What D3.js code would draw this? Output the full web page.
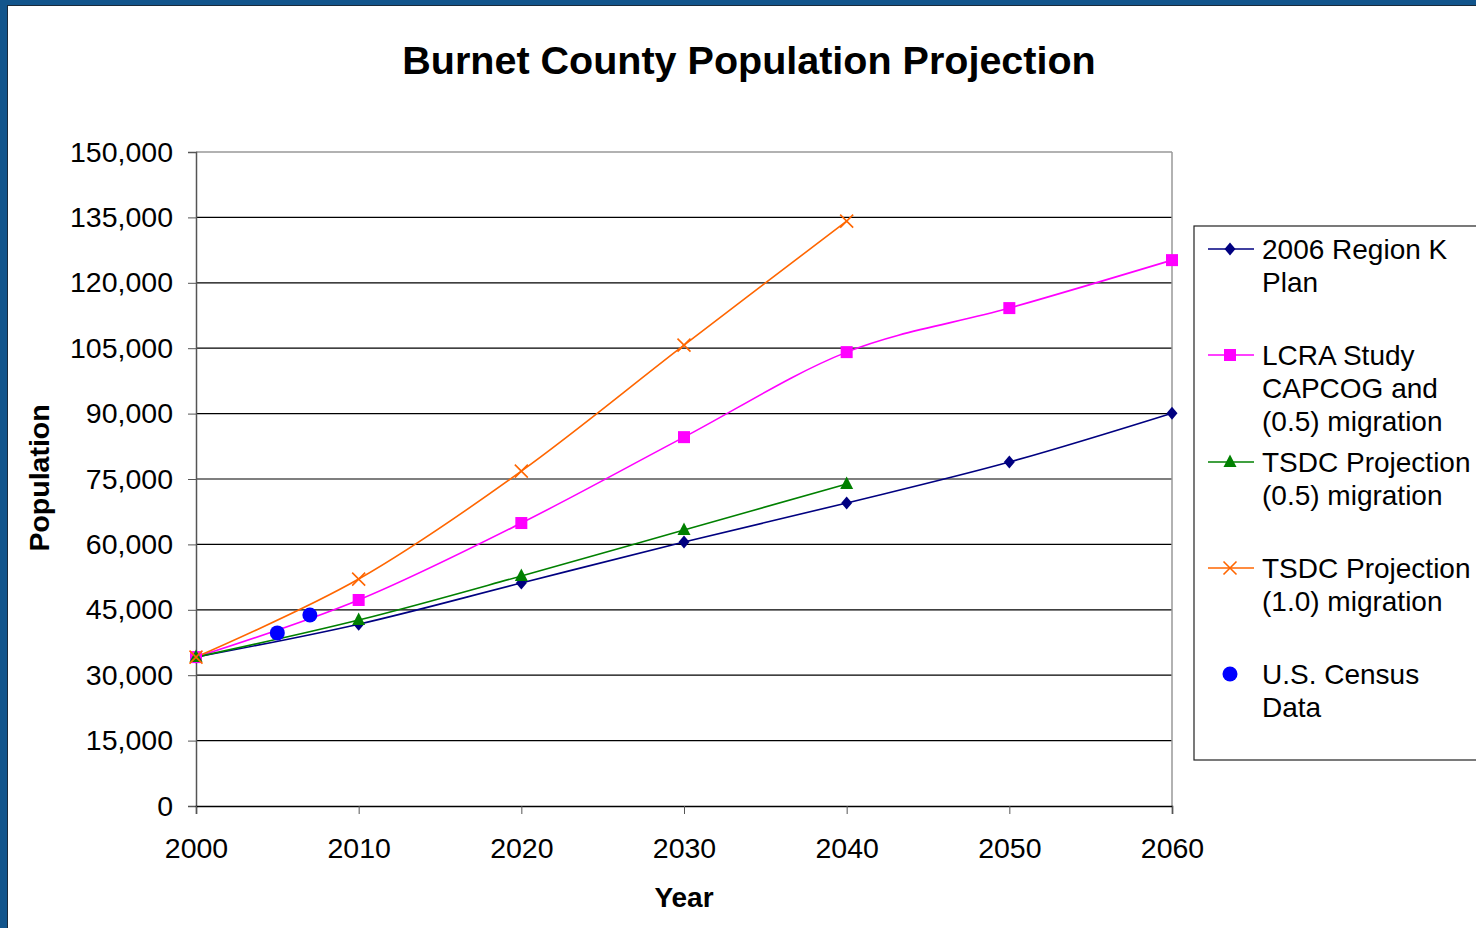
<!DOCTYPE html>
<html>
<head>
<meta charset="utf-8">
<script src="https://cdn.jsdelivr.net/npm/d3@7"></script>
<style>
  html, body { margin: 0; padding: 0; background: #fff; }
  svg { display: block; font-family: "Liberation Sans", Arial, sans-serif; }
</style>
</head>
<body>
<svg id="chart" width="1476" height="928"></svg>
<script>
// ---- data ----
const years = [2000, 2010, 2020, 2030, 2040, 2050, 2060];
const regionK = [34150, 41700, 51150, 60550, 69500, 78900, 90100];
const lcra = [34150, 47250, 64900, 84600, 104100, 114200, 125200];
const tsdcHalfYears = [2000, 2010, 2020, 2030, 2040];
const tsdcHalf = [34150, 42650, 52750, 63300, 73850];
const tsdcOneYears = [2000, 2010, 2020, 2030, 2040];
const tsdcOne = [34150, 52050, 76800, 105700, 134150];
const censusYears = [2005, 2007];
const census = [39700, 43800];
const yTicks = [0, 15000, 30000, 45000, 60000, 75000, 90000, 105000, 120000, 135000, 150000];
const xTicks = [2000, 2010, 2020, 2030, 2040, 2050, 2060];
const legendLabels = [
  ["2006 Region K", "Plan"],
  ["LCRA Study", "CAPCOG and", "(0.5) migration"],
  ["TSDC Projection", "(0.5) migration"],
  ["TSDC Projection", "(1.0) migration"],
  ["U.S. Census", "Data"]
];

const svg = d3.select("#chart");
const W = 1476, H = 928;

// frame
svg.append("rect").attr("x", 0).attr("y", 0).attr("width", W).attr("height", H).attr("fill", "#12558C");
svg.append("rect").attr("x", 7).attr("y", 5).attr("width", W - 7).attr("height", H - 5).attr("fill", "#1a2a3a");
svg.append("rect").attr("x", 8).attr("y", 6).attr("width", W - 8).attr("height", H - 6).attr("fill", "#fff");

const x = d3.scaleLinear().domain([2000, 2060]).range([196, 1172]);
const y = d3.scaleLinear().domain([0, 150000]).range([806, 152]);

// gridlines
svg.append("g").selectAll("line").data(yTicks.filter(d => d > 0 && d < 150000)).join("line")
  .attr("x1", 196).attr("x2", 1172).attr("y1", d => y(d)).attr("y2", d => y(d))
  .attr("stroke", "#000").attr("stroke-width", 1.2);

// plot border top/right gray
svg.append("line").attr("x1", 196).attr("x2", 1172).attr("y1", y(150000)).attr("y2", y(150000)).attr("stroke", "#999").attr("stroke-width", 1.5);
svg.append("line").attr("x1", 1172).attr("x2", 1172).attr("y1", y(150000)).attr("y2", 806).attr("stroke", "#999").attr("stroke-width", 1.5);

// axes
const yAxis = d3.axisLeft(y).tickValues(yTicks).tickSize(8).tickPadding(15).tickFormat(d3.format(","));
const gy = svg.append("g").attr("transform", "translate(196,0)").call(yAxis);
gy.select(".domain").attr("stroke", "#555").attr("stroke-width", 1.5);
gy.selectAll(".tick line").attr("stroke", "#555");
gy.selectAll("text").attr("font-size", 28.5).attr("fill", "#000");

const xAxis = d3.axisBottom(x).tickValues(xTicks).tickSize(8).tickPadding(24).tickFormat(d3.format("d"));
const gx = svg.append("g").attr("transform", "translate(0,806)").call(xAxis);
gx.select(".domain").attr("stroke", "#000").attr("stroke-width", 1.5);
gx.selectAll(".tick line").attr("stroke", "#555");
gx.selectAll("text").attr("font-size", 28.5).attr("fill", "#000");

// titles
svg.append("text").attr("x", 749).attr("y", 74).attr("text-anchor", "middle")
  .attr("font-size", 39.5).attr("font-weight", "bold").text("Burnet County Population Projection");
svg.append("text").attr("x", 684).attr("y", 907).attr("text-anchor", "middle")
  .attr("font-size", 28).attr("font-weight", "bold").text("Year");
svg.append("text").attr("transform", "translate(49,478) rotate(-90)").attr("text-anchor", "middle")
  .attr("font-size", 28.5).attr("font-weight", "bold").text("Population");

// series
const curve = d3.curveCatmullRom.alpha(0);
function drawLine(xs, vs, color) {
  const pts = xs.map((yr, i) => [yr, vs[i]]);
  svg.append("path").datum(pts)
    .attr("d", d3.line().x(d => x(d[0])).y(d => y(d[1])).curve(curve))
    .attr("fill", "none").attr("stroke", color).attr("stroke-width", 1.6);
  return pts;
}
function marker(g, type, color, cx, cy) {
  if (type === "diamond") {
    g.append("path").attr("d", `M${cx},${cy - 6.5}L${cx + 5.5},${cy}L${cx},${cy + 6.5}L${cx - 5.5},${cy}Z`).attr("fill", color);
  } else if (type === "square") {
    g.append("rect").attr("x", cx - 6).attr("y", cy - 6).attr("width", 12).attr("height", 12).attr("fill", color);
  } else if (type === "triangle") {
    g.append("path").attr("d", `M${cx},${cy - 7.5}L${cx + 6.5},${cy + 5}L${cx - 6.5},${cy + 5}Z`).attr("fill", color);
  } else if (type === "x") {
    g.append("path").attr("d", `M${cx - 6.5},${cy - 6.5}L${cx + 6.5},${cy + 6.5}M${cx + 6.5},${cy - 6.5}L${cx - 6.5},${cy + 6.5}`).attr("stroke", color).attr("stroke-width", 1.6);
  } else if (type === "circle") {
    g.append("circle").attr("cx", cx).attr("cy", cy).attr("r", 7.5).attr("fill", color);
  }
}

const series = [
  { xs: years, vs: regionK, color: "#000080", m: "diamond", line: true },
  { xs: years, vs: lcra, color: "#FF00FF", m: "square", line: true },
  { xs: tsdcHalfYears, vs: tsdcHalf, color: "#008000", m: "triangle", line: true },
  { xs: tsdcOneYears, vs: tsdcOne, color: "#FF6600", m: "x", line: true },
  { xs: censusYears, vs: census, color: "#0000FF", m: "circle", line: false }
];
series.forEach(s => { if (s.line) drawLine(s.xs, s.vs, s.color); });
series.forEach(s => {
  const g = svg.append("g");
  s.xs.forEach((yr, i) => marker(g, s.m, s.color, x(yr), y(s.vs[i])));
});

// legend
svg.append("rect").attr("x", 1194).attr("y", 226).attr("width", 300).attr("height", 534)
  .attr("fill", "#fff").attr("stroke", "#222").attr("stroke-width", 1.2);
const legendY = [249, 355, 462, 568, 674];
series.forEach((s, i) => {
  const g = svg.append("g");
  const ly = legendY[i];
  if (s.line) g.append("line").attr("x1", 1208).attr("x2", 1254).attr("y1", ly).attr("y2", ly).attr("stroke", s.color).attr("stroke-width", 1.6);
  marker(g, s.m, s.color, 1230, ly);
  legendLabels[i].forEach((t, j) => {
    g.append("text").attr("x", 1262).attr("y", ly + 10 + j * 33).attr("font-size", 28).attr("fill", "#000").text(t);
  });
});
</script>
</body>
</html>
